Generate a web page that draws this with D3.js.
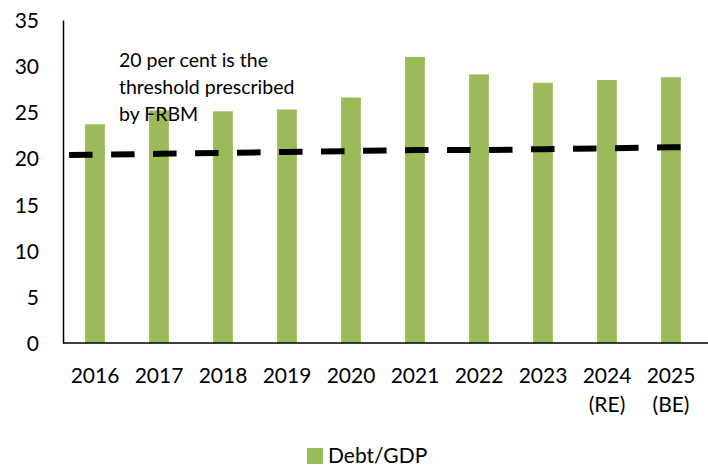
<!DOCTYPE html>
<html>
<head>
<meta charset="utf-8">
<script src="https://cdn.jsdelivr.net/npm/d3@7"></script>
<style>
  body { margin: 0; background: #fff; }
  text { font-family: Lato, "Noto Sans", sans-serif; fill: #000; }
</style>
</head>
<body>
<script>
var w = 708;
var h = 466;

// data
var years = ["2016", "2017", "2018", "2019", "2020", "2021", "2022", "2023", "2024", "2025"];
var yearNotes = ["", "", "", "", "", "", "", "", "(RE)", "(BE)"];
var debtGdp = [23.7, 25.2, 25.1, 25.3, 26.6, 31.0, 29.1, 28.2, 28.5, 28.8];
var threshold = [20.4, 20.5, 20.6, 20.7, 20.8, 20.9, 20.9, 21.0, 21.1, 21.2]; // dashed trend
var yTicks = [0, 5, 10, 15, 20, 25, 30, 35];
var noteLines = ["20 per cent is the", "threshold prescribed", "by FRBM"];
var seriesName = "Debt/GDP";

var plotL = 63, plotR = 703, plotT = 20, plotB = 343;

var svg = d3.select("body")
            .append("svg")
            .attr("width", w)
            .attr("height", h);

var x = d3.scaleBand()
          .domain(years)
          .range([plotL, plotR])
          .paddingInner(0.69)
          .paddingOuter(0.345);

var y = d3.scaleLinear()
          .domain([0, 35])
          .range([plotB, plotT]);

// bars
svg.selectAll("rect.bar")
   .data(debtGdp)
   .enter()
   .append("rect")
   .attr("class", "bar")
   .attr("x", function(d, i){ return x(years[i]); })
   .attr("y", function(d){ return y(d); })
   .attr("width", x.bandwidth())
   .attr("height", function(d){ return y(0) - y(d); })
   .attr("fill", "#9BBB59");

// dashed line, extended a little past the first and last bars
var pts = threshold.map(function(d, i){
    return [x(years[i]) + x.bandwidth() / 2, y(d)];
});
var n = pts.length;
var slope = (pts[n - 1][1] - pts[0][1]) / (pts[n - 1][0] - pts[0][0]);
var x0 = x(years[0]) - 16;
var x1 = x(years[n - 1]) + x.bandwidth();
pts.unshift([x0, pts[0][1] + slope * (x0 - pts[0][0])]);
pts.push([x1, pts[n][1] + slope * (x1 - pts[n][0])]);

svg.append("path")
   .attr("d", d3.line()(pts))
   .attr("fill", "none")
   .attr("stroke", "#000")
   .attr("stroke-width", 6)
   .attr("stroke-dasharray", "23.5,18.5");

// y axis
var yAxis = svg.append("g")
   .attr("transform", "translate(" + plotL + ",0)")
   .call(d3.axisLeft(y).tickValues(yTicks).tickSize(0).tickPadding(24));
yAxis.select(".domain").attr("stroke", "#000").attr("stroke-width", 1.5);
yAxis.selectAll("text").style("font-size", "21px").attr("dy", "0.36em");

// x axis
var xAxis = svg.append("g")
   .attr("transform", "translate(0," + plotB + ")")
   .call(d3.axisBottom(x).tickSize(0).tickPadding(0));
xAxis.select(".domain").remove();
xAxis.selectAll("text").remove();
svg.append("line")
   .attr("x1", plotL).attr("x2", w)
   .attr("y1", plotB).attr("y2", plotB)
   .attr("stroke", "#000").attr("stroke-width", 1.5);

xAxis.selectAll(".tick").each(function(d, i){
    var g = d3.select(this);
    g.append("text")
     .attr("y", 40)
     .attr("text-anchor", "middle")
     .style("font-size", "21px")
     .text(d);
    if (yearNotes[i]) {
        g.append("text")
         .attr("y", 69)
         .attr("text-anchor", "middle")
         .style("font-size", "21px")
         .text(yearNotes[i]);
    }
});

// annotation
svg.append("g")
   .selectAll("text")
   .data(noteLines)
   .enter()
   .append("text")
   .attr("x", 119)
   .attr("y", function(d, i){ return 67 + i * 27; })
   .style("font-size", "19.5px")
   .text(function(d){ return d; });

// legend
var legend = svg.append("g").attr("transform", "translate(307,448)");
legend.append("rect")
      .attr("width", 16).attr("height", 16)
      .attr("fill", "#9BBB59");
legend.append("text")
      .attr("x", 21).attr("y", 15)
      .style("font-size", "21px")
      .text(seriesName);
</script>
</body>
</html>
